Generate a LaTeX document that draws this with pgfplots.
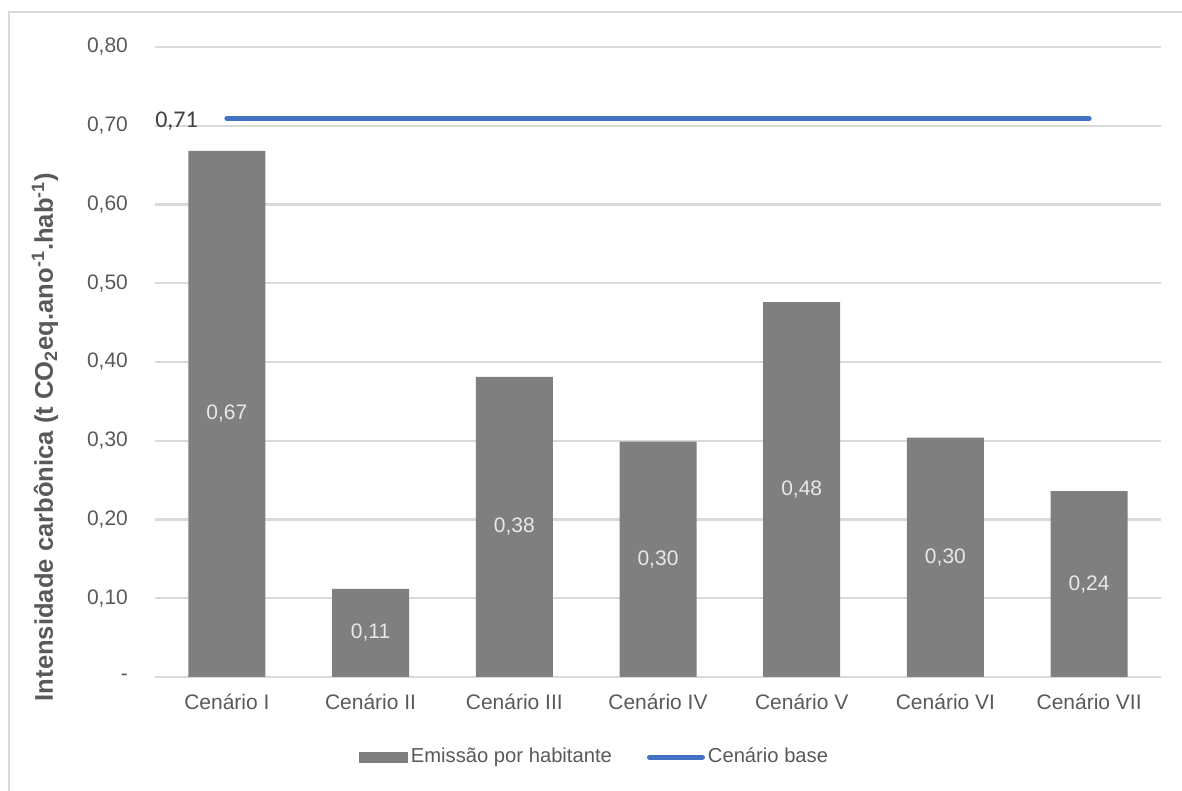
\documentclass[border=0pt]{standalone}
\usepackage{pgfplots}
\pgfplotsset{compat=1.18}
\usepackage{fontspec}
\setmainfont{Liberation Sans}
\newfontfamily\calibri{Carlito}
\definecolor{txt}{HTML}{595959}
\definecolor{grd}{HTML}{D9D9D9}
\definecolor{barc}{HTML}{7F7F7F}
\definecolor{basec}{HTML}{4472C4}
\definecolor{lbl}{HTML}{E8E8E8}
\definecolor{dark}{HTML}{404040}
\begin{document}
\begin{tikzpicture}
\path[use as bounding box] (-77.5pt,-57pt) rectangle (513.5pt,338.5pt);
\draw[grd, line width=1.2pt] (-73pt,-57pt) -- (-73pt,332.5pt) -- (513.5pt,332.5pt);
\begin{axis}[
  at={(0pt,0pt)}, anchor=south west,
  scale only axis, width=503pt, height=315pt,
  xmin=-0.5, xmax=6.5, ymin=0, ymax=0.8,
  xtick={0,1,2,3,4,5,6},
  xticklabels={Cenário I, Cenário II, Cenário III, Cenário IV, Cenário V, Cenário VI, Cenário VII},
  ytick={0,0.1,0.2,0.3,0.4,0.5,0.6,0.7,0.8},
  yticklabels={-,{0,10},{0,20},{0,30},{0,40},{0,50},{0,60},{0,70},{0,80}},
  axis line style={draw=none},
  major tick length=0pt,
  ymajorgrids, grid style={grd, line width=1.2pt},
  tick label style={font=\fontsize{10.5}{12}\selectfont, text=txt},
  yticklabel style={xshift=-10pt},
  xticklabel style={yshift=-5pt},
  every axis y label/.style={at={(axis description cs:-0.1093,0.381)}, rotate=90, anchor=center, font=\bfseries\fontsize{12.8}{15}\selectfont, text=txt},
  ylabel={Intensidade carbônica (t CO\textsubscript{2}eq.ano\textsuperscript{-1}.hab\textsuperscript{-1})},
  legend columns=2,
  legend style={at={(0.4374,-0.127)}, anchor=center, draw=none, fill=none,
    font=\fontsize{10.1}{12}\selectfont, text=txt,
    nodes={inner xsep=1.5pt},
    /tikz/every even column/.append style={column sep=16pt}},
]
\addplot[ybar, bar width=38.5pt, fill=barc, draw=none,
  legend image code/.code={\fill[barc] (0pt,-2.75pt) rectangle (24.5pt,2.75pt);}]
  coordinates {(0,0.668) (1,0.112) (2,0.381) (3,0.299) (4,0.476) (5,0.304) (6,0.236)};
\addlegendentry{Emissão por habitante}
\addplot[basec, line width=2.5pt, line cap=round,
  legend image code/.code={\draw[basec, line width=2.5pt, line cap=round] (0pt,0pt) -- (26.5pt,0pt);}]
  coordinates {(0,0.709) (6,0.709)};
\addlegendentry{Cenário base}
\addplot[draw=none, mark=none, forget plot, nodes near coords, point meta=explicit symbolic,
  nodes near coords style={anchor=center, text=lbl, font=\fontsize{10.5}{12}\selectfont}]
  coordinates {(0,0.334)[0,67] (1,0.056)[0,11] (2,0.1905)[0,38] (3,0.1495)[0,30] (4,0.238)[0,48] (5,0.152)[0,30] (6,0.118)[0,24]};
\node[anchor=east, text=dark, font=\calibri\fontsize{12}{14}\selectfont, xshift=-11pt, yshift=-1.5pt] at (axis cs:0,0.709) {0,71};
\end{axis}
\end{tikzpicture}
\end{document}
